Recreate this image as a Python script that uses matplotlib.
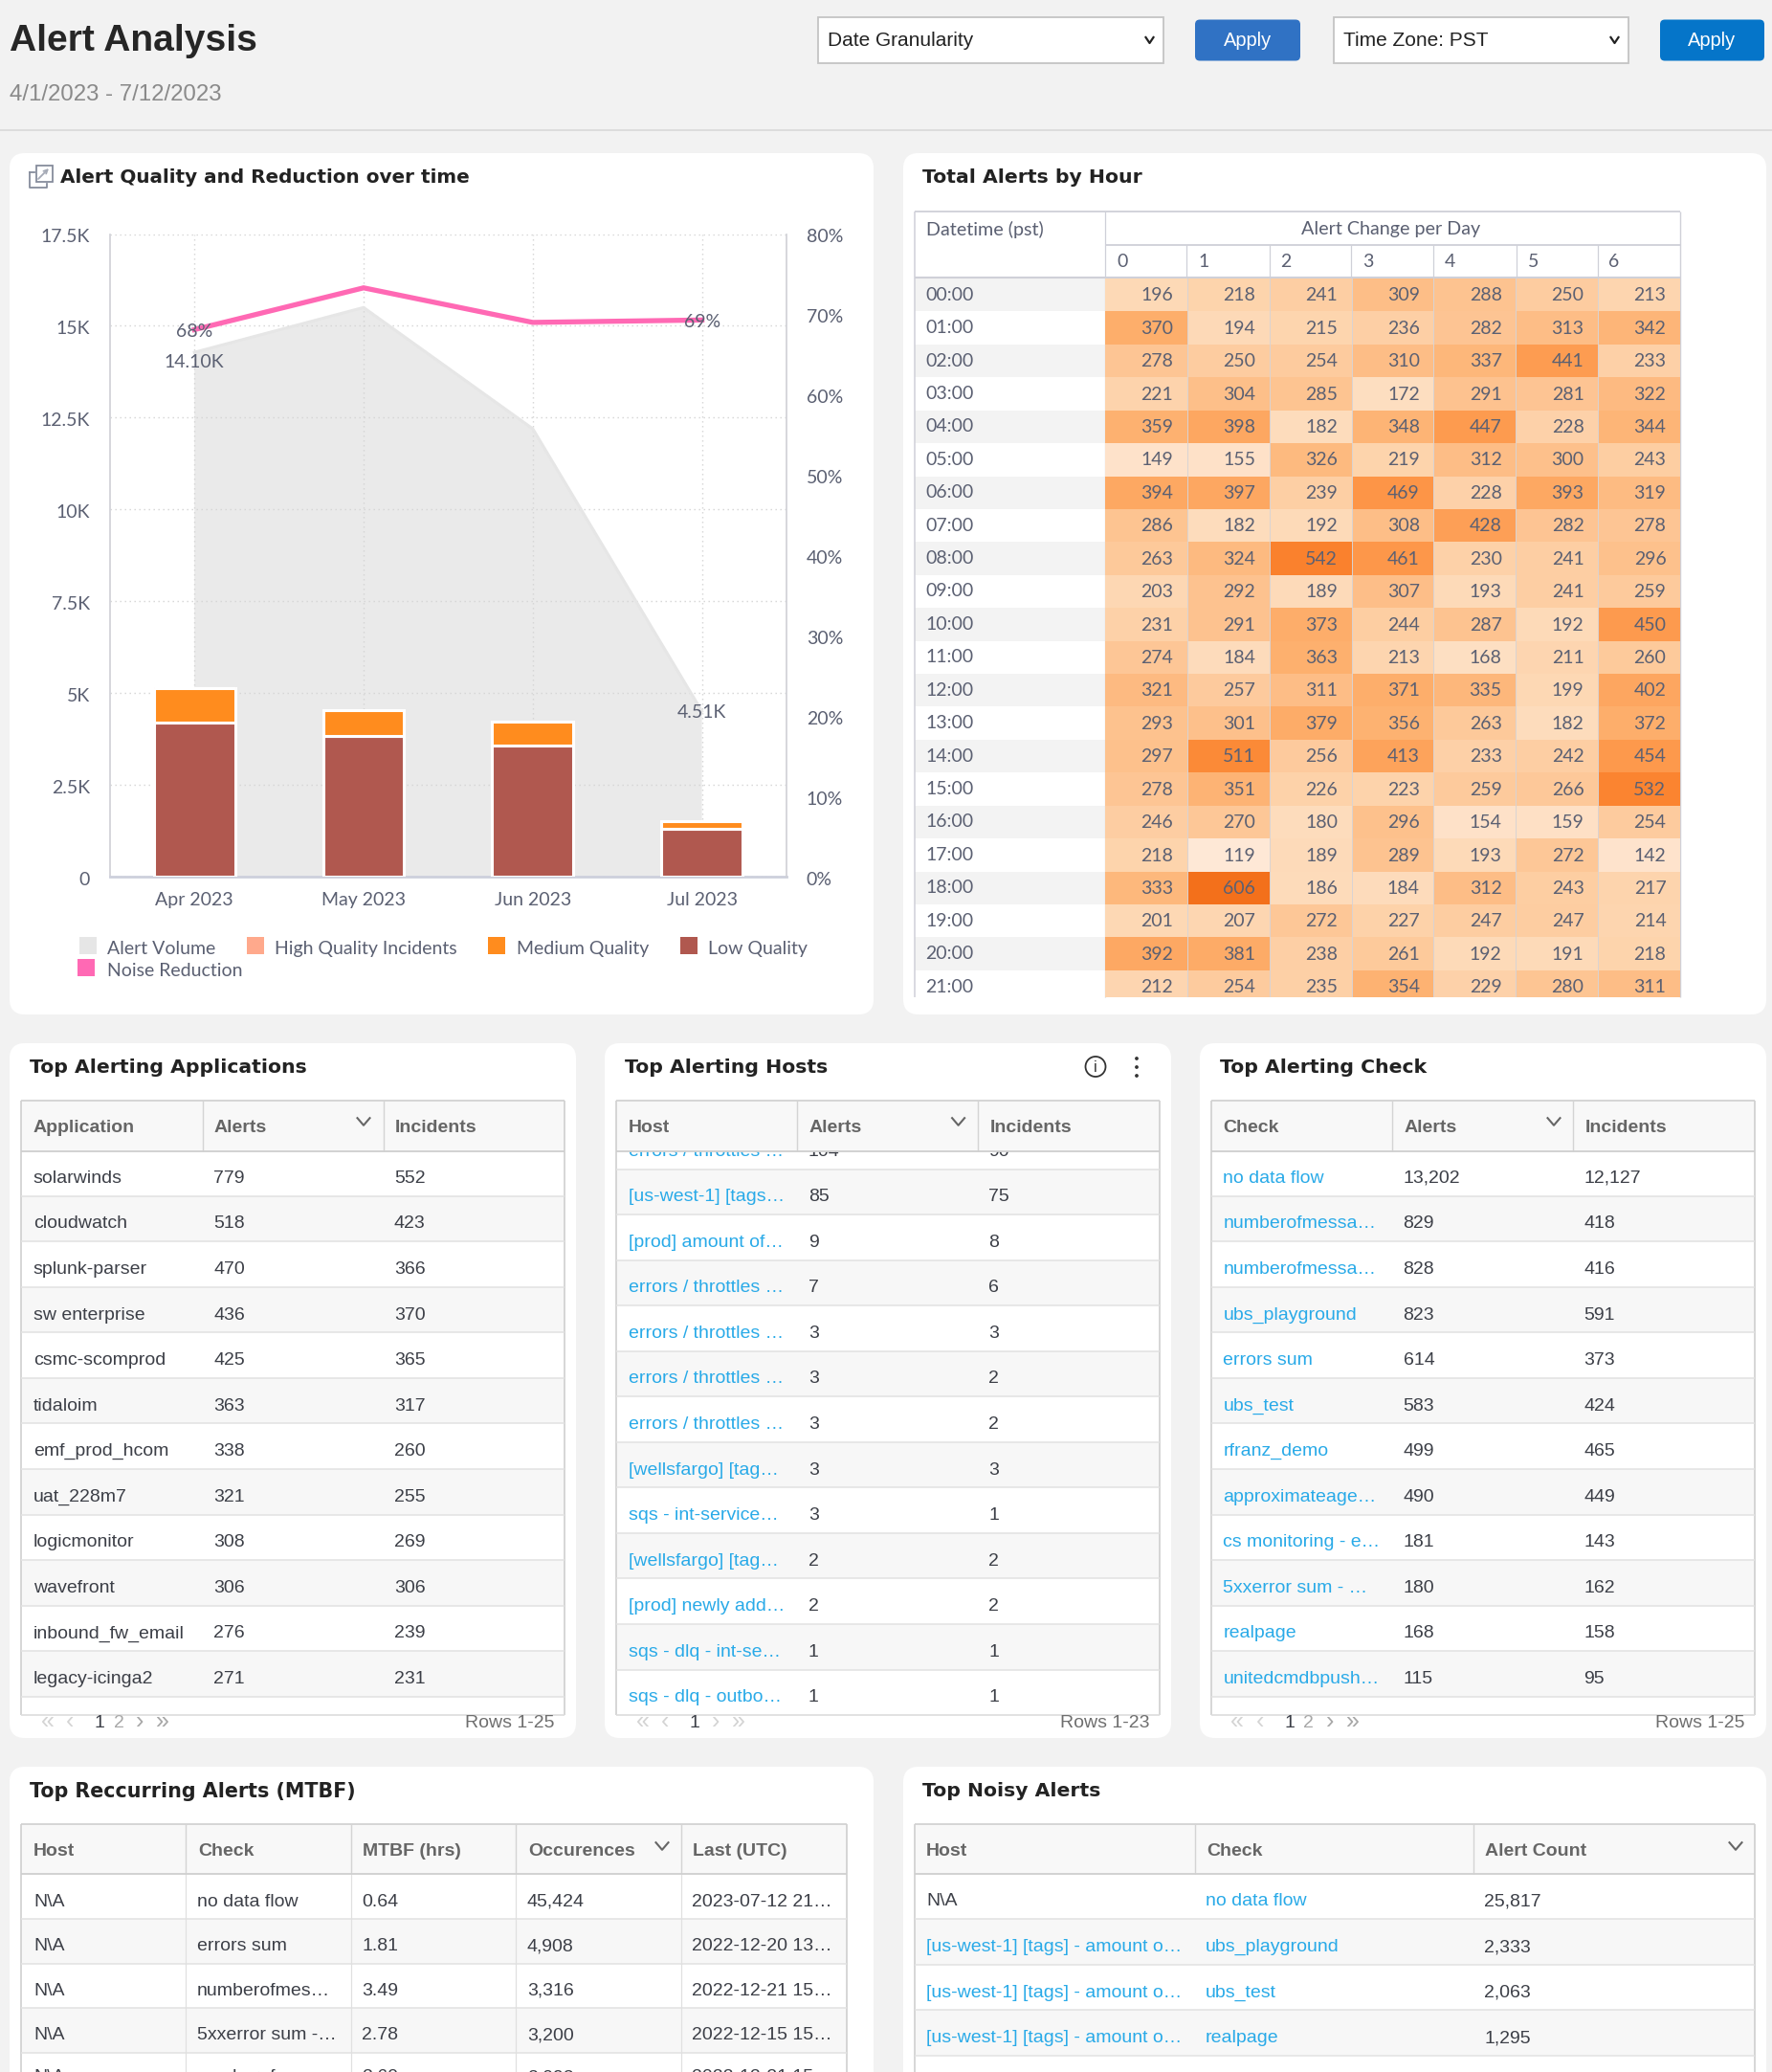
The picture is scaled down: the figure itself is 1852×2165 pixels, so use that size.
import matplotlib
matplotlib.use("Agg")
import matplotlib.pyplot as plt
import numpy as np
from matplotlib.patches import FancyBboxPatch, Rectangle, Circle
from matplotlib.colors import LinearSegmentedColormap, Normalize
from matplotlib.transforms import ScaledTranslation

# ---------- data ----------
months = ["Apr 2023", "May 2023", "Jun 2023", "Jul 2023"]
alert_volume = [14280, 15500, 12200, 4510]
high_quality = [30, 20, 15, 10]
medium_quality = [930, 680, 640, 215]
low_quality = [4210, 3850, 3590, 1300]
noise_reduction = [68.1, 73.3, 69.0, 69.3]
left_ticks = [0, 2500, 5000, 7500, 10000, 12500, 15000, 17500]
left_tick_labels = ["0", "2.5K", "5K", "7.5K", "10K", "12.5K", "15K", "17.5K"]
right_ticks = [0, 10, 20, 30, 40, 50, 60, 70, 80]
right_tick_labels = ["0%", "10%", "20%", "30%", "40%", "50%", "60%", "70%", "80%"]

hours = ["%02d:00" % h for h in range(22)]
day_cols = ["0", "1", "2", "3", "4", "5", "6"]
alerts_by_hour = [
    [196, 218, 241, 309, 288, 250, 213],
    [370, 194, 215, 236, 282, 313, 342],
    [278, 250, 254, 310, 337, 441, 233],
    [221, 304, 285, 172, 291, 281, 322],
    [359, 398, 182, 348, 447, 228, 344],
    [149, 155, 326, 219, 312, 300, 243],
    [394, 397, 239, 469, 228, 393, 319],
    [286, 182, 192, 308, 428, 282, 278],
    [263, 324, 542, 461, 230, 241, 296],
    [203, 292, 189, 307, 193, 241, 259],
    [231, 291, 373, 244, 287, 192, 450],
    [274, 184, 363, 213, 168, 211, 260],
    [321, 257, 311, 371, 335, 199, 402],
    [293, 301, 379, 356, 263, 182, 372],
    [297, 511, 256, 413, 233, 242, 454],
    [278, 351, 226, 223, 259, 266, 532],
    [246, 270, 180, 296, 154, 159, 254],
    [218, 119, 189, 289, 193, 272, 142],
    [333, 606, 186, 184, 312, 243, 217],
    [201, 207, 272, 227, 247, 247, 214],
    [392, 381, 238, 261, 192, 191, 218],
    [212, 254, 235, 354, 229, 280, 311],
]

apps_head = ["Application", "Alerts", "Incidents"]
apps_rows = [
    ["solarwinds", "779", "552"], ["cloudwatch", "518", "423"],
    ["splunk-parser", "470", "366"], ["sw enterprise", "436", "370"],
    ["csmc-scomprod", "425", "365"], ["tidaloim", "363", "317"],
    ["emf_prod_hcom", "338", "260"], ["uat_228m7", "321", "255"],
    ["logicmonitor", "308", "269"], ["wavefront", "306", "306"],
    ["inbound_fw_email", "276", "239"], ["legacy-icinga2", "271", "231"],
]
hosts_head = ["Host", "Alerts", "Incidents"]
hosts_rows = [
    ["errors / throttles …", "104", "90"],
    ["[us-west-1] [tags…", "85", "75"], ["[prod] amount of…", "9", "8"],
    ["errors / throttles …", "7", "6"], ["errors / throttles …", "3", "3"],
    ["errors / throttles …", "3", "2"], ["errors / throttles …", "3", "2"],
    ["[wellsfargo] [tag…", "3", "3"], ["sqs - int-service…", "3", "1"],
    ["[wellsfargo] [tag…", "2", "2"], ["[prod] newly add…", "2", "2"],
    ["sqs - dlq - int-se…", "1", "1"], ["sqs - dlq - outbo…", "1", "1"],
]
checks_head = ["Check", "Alerts", "Incidents"]
checks_rows = [
    ["no data flow", "13,202", "12,127"], ["numberofmessa…", "829", "418"],
    ["numberofmessa…", "828", "416"], ["ubs_playground", "823", "591"],
    ["errors sum", "614", "373"], ["ubs_test", "583", "424"],
    ["rfranz_demo", "499", "465"], ["approximateage…", "490", "449"],
    ["cs monitoring - e…", "181", "143"], ["5xxerror sum - …", "180", "162"],
    ["realpage", "168", "158"], ["unitedcmdbpush…", "115", "95"],
]
mtbf_head = ["Host", "Check", "MTBF (hrs)", "Occurences", "Last (UTC)"]
mtbf_rows = [
    ["N\\A", "no data flow", "0.64", "45,424", "2023-07-12 21…"],
    ["N\\A", "errors sum", "1.81", "4,908", "2022-12-20 13…"],
    ["N\\A", "numberofmes…", "3.49", "3,316", "2022-12-21 15…"],
    ["N\\A", "5xxerror sum -…", "2.78", "3,200", "2022-12-15 15…"],
    ["N\\A", "numberofmes…", "3.60", "3,093", "2022-12-21 15…"],
]
noisy_head = ["Host", "Check", "Alert Count"]
noisy_rows = [
    ["N\\A", "no data flow", "25,817"],
    ["[us-west-1] [tags] - amount o…", "ubs_playground", "2,333"],
    ["[us-west-1] [tags] - amount o…", "ubs_test", "2,063"],
    ["[us-west-1] [tags] - amount o…", "realpage", "1,295"],
]
apr_volume_label = "14.10K"
jul_volume_label = "4.51K"

# ---------- figure ----------
W, H = 1852, 2165
BG = "#f2f2f2"
GREY = "#5b6072"
ARIAL = "Liberation Sans"
LATO = "Lato"
LINK = "#29aae8"
DARK = "#3c3f47"
fig = plt.figure(figsize=(W / 100, H / 100), dpi=100, facecolor=BG)
ov = fig.add_axes([0, 0, 1, 1], zorder=0)
ov.set_xlim(0, W)
ov.set_ylim(H, 0)
ov.axis("off")


def axes_px(x0, y0, x1, y1, **kw):
    return fig.add_axes([x0 / W, 1 - y1 / H, (x1 - x0) / W, (y1 - y0) / H], **kw)


def card(x0, y0, x1, y1):
    r = 16
    ov.add_patch(FancyBboxPatch((x0 + r, y0 + r), x1 - x0 - 2 * r, y1 - y0 - 2 * r,
                                boxstyle="round,pad=%d,rounding_size=%d" % (r, r),
                                fc="white", ec="none", zorder=1))


def rect(x0, y0, x1, y1, fc="none", ec="none", lw=1.0, z=2):
    ov.add_patch(Rectangle((x0, y0), x1 - x0, y1 - y0, fc=fc, ec=ec, lw=lw, zorder=z))


def line(x0, y0, x1, y1, c="#dddddd", lw=1.0, z=3):
    ov.plot([x0, x1], [y0, y1], color=c, lw=lw, zorder=z, solid_capstyle="butt")


def txt(x, y, s, size=14, color=DARK, family=ARIAL, weight="normal", ha="left", va="center", clip=None, z=5):
    t = ov.text(x, y, s, fontsize=size, color=color, family=family, fontweight=weight,
                ha=ha, va=va, zorder=z)
    if clip is not None:
        t.set_clip_on(True)
        t.set_clip_path(Rectangle((clip[0], clip[1]), clip[2] - clip[0], clip[3] - clip[1],
                                  transform=ov.transData))
    return t


def chevron(cx, cy, w=7, h=4, c="#555555", lw=1.4):
    ov.plot([cx - w, cx, cx + w], [cy - h, cy + h, cy - h], color=c, lw=lw, zorder=6)


def card_title(x, y, s, size=14.7):
    txt(x, y + 1.5, s, size=size, color="#222222", family="DejaVu Sans", weight="bold")


# ---------- header ----------
txt(10, 43, "Alert Analysis", size=28.1, color="#262626", weight="bold")
txt(10, 99, "4/1/2023 - 7/12/2023", size=17.3, color="#8a8a8a")
line(0, 136, W, 136, c="#dcdcdc", lw=1.4)
for x0, x1, s in [(855, 1215.5, "Date Granularity"), (1394, 1701.5, "Time Zone: PST")]:
    rect(x0, 18, x1, 65.5, fc="white", ec="#c4c4c4", lw=1.3)
    txt(x0 + 10, 43, s, size=15, color="#222222")
    chevron(x1 - 14, 42, w=4, h=3, c="#222222", lw=1.6)
for x0, x1, c in [(1249, 1359, "#3072c4"), (1735, 1844, "#0575c9")]:
    ov.add_patch(FancyBboxPatch((x0 + 5, 25.5), x1 - x0 - 10, 33,
                                boxstyle="round,pad=5,rounding_size=5", fc=c, ec="none", zorder=2))
    txt((x0 + x1) / 2, 43, "Apply", size=14.4, color="white", ha="center", z=6)

# ---------- cards ----------
card(10, 160, 913, 1060)
card(944, 160, 1846, 1060)
card(10, 1090, 602, 1816)
card(632, 1090, 1224, 1816)
card(1254, 1090, 1846, 1816)
card(10, 1846, 913, H + 40)
card(944, 1846, 1846, H + 40)

card_title(63, 184, "Alert Quality and Reduction over time", size=14.45)
card_title(964, 184, "Total Alerts by Hour")
card_title(31, 1114, "Top Alerting Applications")
card_title(653, 1114, "Top Alerting Hosts")
card_title(1275, 1114, "Top Alerting Check")
card_title(31, 1870, "Top Reccurring Alerts (MTBF)", size=14.85)
card_title(964, 1870, "Top Noisy Alerts")

# chart title icon
rect(38, 173, 55, 190, ec="#868c9c", lw=1.3, z=4)
ov.plot([31, 31, 49, 49], [180, 196, 196, 192], color="#868c9c", lw=1.3, zorder=4)
ov.plot([31, 36], [180, 180], color="#868c9c", lw=1.3, zorder=4)
ov.annotate("", xy=(51, 176), xytext=(40, 187), zorder=5,
            arrowprops=dict(arrowstyle="->", color="#a5aab6", lw=1.3, shrinkA=0, shrinkB=0, mutation_scale=7))

# info + kebab icons
ov.add_patch(Circle((1145, 1114.5), 10.5, fc="none", ec="#333333", lw=1.3, zorder=5))
txt(1145, 1115, "i", size=11.5, color="#333333", ha="center")
for dy in (-9, 0, 9):
    ov.add_patch(Circle((1188, 1115 + dy), 1.9, fc="#333333", ec="none", zorder=5))

# ---------- combo chart ----------
ax = axes_px(114.8, 244.5, 822, 916.4, zorder=2)
ax.patch.set_alpha(0)
x = np.arange(len(months))
ax.set_xlim(-0.5, 3.5)
ax.set_ylim(0, 17500)
ax.set_axisbelow(True)
ax.grid(True, axis="both", color="#d4d4d4", lw=1.0, ls=(0, (1, 2.6)))
ax.fill_between(x, alert_volume, 0, facecolor=(0.84, 0.84, 0.84, 0.5), edgecolor="none", zorder=1.5)
ax.plot(x, alert_volume, color="#e6e6e6", lw=2.2, zorder=1.6)
low = np.array(low_quality, float)
med = np.array(medium_quality, float)
high = np.array(high_quality, float)
bw = 0.48
ax.bar(x, low, bw, color="#b0584f", edgecolor="white", lw=2.2, zorder=3)
ax.bar(x, med, bw, bottom=low, color="#ff8c1e", edgecolor="white", lw=2.2, zorder=3)
ax.bar(x, high, bw, bottom=low + med, color="#ffa98c", edgecolor="white", lw=0.8, zorder=3)
ax.set_xticks(x)
ax.set_xticklabels(months, family=LATO, fontsize=14, color=GREY)
ax.set_yticks(left_ticks)
ax.set_yticklabels(left_tick_labels, family=LATO, fontsize=14, color=GREY)
ax.tick_params(axis="both", length=0)
ax.tick_params(axis="y", pad=15)
ax.tick_params(axis="x", pad=11.5)
ax.spines["top"].set_visible(False)
ax.spines["right"].set_visible(False)
ax.spines["left"].set_color("#cfd0d6")
ax.spines["left"].set_linewidth(1.2)
ax.spines["bottom"].set_color("#cdd0dc")
ax.spines["bottom"].set_linewidth(2.0)
ax.text(x[0], alert_volume[0] - 260, apr_volume_label, family=LATO, fontsize=14, color=GREY, ha="center", va="center", zorder=4)
ax.text(x[3], alert_volume[3] - 30, jul_volume_label, family=LATO, fontsize=14, color=GREY, ha="center", va="center", zorder=4)

ax2 = ax.twinx()
ax2.set_zorder(3)
ax2.patch.set_alpha(0)
ax2.set_ylim(0, 80)
ax2.plot(x, noise_reduction, color="#ff69b4", lw=3.8, zorder=5, solid_joinstyle="miter")
ax2.set_yticks(right_ticks)
ax2.set_yticklabels(right_tick_labels, family=LATO, fontsize=14, color=GREY)
ax2.tick_params(axis="y", length=0, pad=15)
for s in ("top", "left", "bottom"):
    ax2.spines[s].set_visible(False)
ax2.spines["right"].set_color("#cfd0d6")
ax2.spines["right"].set_linewidth(1.2)
ax2.text(x[0], noise_reduction[0] - 0.25, "68%", family=LATO, fontsize=14, color=GREY, ha="center", va="center", zorder=6)
ax2.text(x[3], noise_reduction[3] - 0.2, "69%", family=LATO, fontsize=14, color=GREY, ha="center", va="center", zorder=6)

nudge = ScaledTranslation(0, -1.4 / 100, fig.dpi_scale_trans)
for lab in list(ax.get_yticklabels()) + list(ax2.get_yticklabels()):
    lab.set_transform(lab.get_transform() + nudge)

# legend
legend_items = [(83, 990, "#e6e6e6", "Alert Volume", 112),
                (258, 990, "#ffa98c", "High Quality Incidents", 287),
                (510, 990, "#ff8c1e", "Medium Quality", 540),
                (710.5, 990, "#b0584f", "Low Quality", 740),
                (80.5, 1013, "#ff69b4", "Noise Reduction", 112)]
for lx, ly, c, s, tx in legend_items:
    rect(lx, ly - 11, lx + 18, ly + 7, fc=c, z=4)
    txt(tx, ly + 1.5, s, size=14, color=GREY, family=LATO)

# ---------- heatmap ----------
HL, HR = 1155, 1756
RT, RH = 291, 34.42
HB = 1042
stops = [(119, "#fee8d6"), (200, "#fdd8b4"), (300, "#fdc08b"), (370, "#fdae6b"),
         (450, "#fd9a4e"), (530, "#fb8531"), (606, "#f3701b")]
cmap = LinearSegmentedColormap.from_list(
    "alert", [((v - 119) / (606 - 119), c) for v, c in stops])
hax = axes_px(HL, RT, HR, HB, zorder=2)
hax.set_xlim(0, 7)
hax.set_ylim((HB - RT) / RH, 0)
hax.axis("off")
vals = np.array(alerts_by_hour, float)
hax.pcolormesh(np.arange(8), np.arange(len(hours) + 1), vals, cmap=cmap,
               norm=Normalize(119, 606), edgecolors="none")
for c in range(1, 7):
    hax.axvline(c, color="#d8d3d3", lw=0.7)
for r, row in enumerate(alerts_by_hour):
    for c, v in enumerate(row):
        hax.text(c + 0.83, r + 0.52, str(v), family=LATO, fontsize=14, color=GREY,
                 ha="right", va="center", clip_on=True)

for i, lab in enumerate(hours):
    y0 = RT + i * RH
    if i % 2 == 0:
        rect(956, y0, HL, min(y0 + RH, HB), fc="#f3f3f3", z=2)
    txt(967.5, y0 + RH * 0.5, lab, size=14, color=GREY, family=LATO, clip=(956, RT, HL, HB))

hc = "#cfd0d8"
col_x = [1155, 1240, 1326.5, 1412, 1498, 1584.5, 1669.5, 1756]
line(955.5, 220.5, 1756, 220.5, c=hc, lw=1.3)
line(955.5, 220.5, 955.5, HB, c=hc, lw=1.1)
line(1155, 220.5, 1155, HB, c=hc, lw=0.9)
line(1756, 220.5, 1756, HB, c=hc, lw=1.0)
line(1155, 255.5, 1756, 255.5, c=hc, lw=1.3)
line(955.5, 289.5, 1756, 289.5, c=hc, lw=1.5)
for cx in col_x[1:-1]:
    line(cx, 255.5, cx, 289.5, c=hc, lw=0.9)
txt(967.5, 239.5, "Datetime (pst)", size=14.2, color=GREY, family=LATO)
txt(1454, 239.5, "Alert Change per Day", size=14.2, color=GREY, family=LATO, ha="center")
for i, d in enumerate(day_cols):
    txt(col_x[i] + 12, 273.5, d, size=14, color=GREY, family=LATO)


# ---------- tables ----------
def table(cols, head, rows, head_top, head_bot, row_lines, row_bot, link_cols=(),
          zebra_start=1, sort_x=None, sort_y=None, text_dx=12.5):
    L, R = cols[0], cols[-1]
    clip = (L, head_bot, R, row_bot)
    rect(L, head_top, R, head_bot, fc="#f8f8f8", z=2)
    line(L, head_top, R, head_top, c="#cfcfcf", lw=1.2)
    line(L, head_bot, R, head_bot, c="#cfcfcf", lw=1.3, z=7)
    line(L, head_top, L, row_bot, c="#cfcfcf", lw=1.2)
    line(R, head_top, R, row_bot, c="#cfcfcf", lw=1.2)
    for c in cols[1:-1]:
        line(c, head_top, c, head_bot, c="#d4d4d4", lw=1.0)
    for i, h in enumerate(head):
        txt(cols[i] + text_dx, (head_top + head_bot) / 2 + 2, h, size=14, color="#666666", weight="bold")
    if sort_x is not None:
        chevron(sort_x, sort_y, w=6.5, h=3.8, c="#666666", lw=1.5)
    edges = [None] + list(row_lines)
    for r, row in enumerate(rows):
        top = edges[r] if r > 0 else row_lines[0] - (row_lines[1] - row_lines[0])
        bot = row_lines[r] if r < len(row_lines) else top + (row_lines[1] - row_lines[0])
        t0, b0 = max(top, head_bot), min(bot, row_bot)
        if r % 2 == zebra_start % 2:
            rect(L, t0, R, b0, fc="#f7f7f7", z=2)
        if r < len(row_lines) and bot <= row_bot:
            line(L, bot, R, bot, c="#e2e2e2", lw=1.1)
        cy = (top + bot) / 2 + 5.5
        for c, s in enumerate(row):
            color = DARK
            if c in link_cols and s != "N\\A":
                color = LINK
            txt(cols[c] + text_dx - (1 if c > 0 else 0), cy, s, size=14, color=color, clip=clip)


def pager(xs, y, pages, rows_x, rows_text):
    lab = ["«", "‹"] + pages + ["›", "»"]
    for i, (px, s) in enumerate(zip(xs, lab)):
        if s == "1":
            col, sz = DARK, 14
        elif s in ("2",):
            col, sz = "#a8a8a8", 14
        elif s in ("«", "‹"):
            col, sz = "#d4d4d4", 18
        else:
            col, sz = "#a8a8a8" if len(pages) > 1 else "#d4d4d4", 18
        txt(px, y - (1.5 if s in lab[:2] + lab[-2:] else 0), s, size=sz, color=col, ha="center", z=8)
    txt(rows_x, y, rows_text, size=14, color="#6e6e6e", ha="right", z=8)


STEP = 47.55
a_lines = [1249.7 + i * STEP for i in range(12)]
table([22.4, 211.5, 400.5, 589.5], apps_head, apps_rows, 1150.3, 1202.6, a_lines, 1791.5,
      sort_x=380, sort_y=1172)
b_lines = [1221.5 + i * STEP for i in range(13)]
table([644.4, 833.4, 1022, 1212], hosts_head, hosts_rows, 1150.3, 1202.6, b_lines, 1791.5,
      link_cols=(0,), zebra_start=1, sort_x=1001.6, sort_y=1172)
table([1266, 1455, 1644, 1834], checks_head, checks_rows, 1150.3, 1202.6, a_lines, 1791.5,
      link_cols=(0,), sort_x=1624, sort_y=1172)
for xa, xb in [(22.4, 589.5), (644.4, 1212), (1266, 1834)]:
    line(xa, 1791.5, xb, 1791.5, c="#dddddd", lw=1.2)

pager([50, 73, 104, 124, 146, 170], 1800.5, ["1", "2"], 579.5, "Rows 1-25")
pager([671.6, 695, 726, 748, 772], 1800.5, ["1"], 1201, "Rows 1-23")
pager([1293, 1316.6, 1347.7, 1367, 1389.7, 1414], 1800.5, ["1", "2"], 1823, "Rows 1-25")

d_cols = [22.4, 194.3, 366.8, 539.3, 711.8, 885]
d_lines = [2005, 2051.7, 2097.7, 2145, 2185]
table(d_cols, mtbf_head, mtbf_rows, 1906.3, 1958.3, d_lines, H, sort_x=692, sort_y=1929)
for c in d_cols[1:-1]:
    line(c, 1958.3, c, H, c="#e0e0e0", lw=0.9)
e_cols = [955.5, 1248.5, 1540, 1834]
e_lines = [2005.3, 2053.3, 2100.3, 2148.3]
table(e_cols, noisy_head, noisy_rows, 1906.3, 1958.3, e_lines, H,
      link_cols=(0, 1), sort_x=1814, sort_y=1929)

fig.savefig("out.png", dpi=100, facecolor=BG)
